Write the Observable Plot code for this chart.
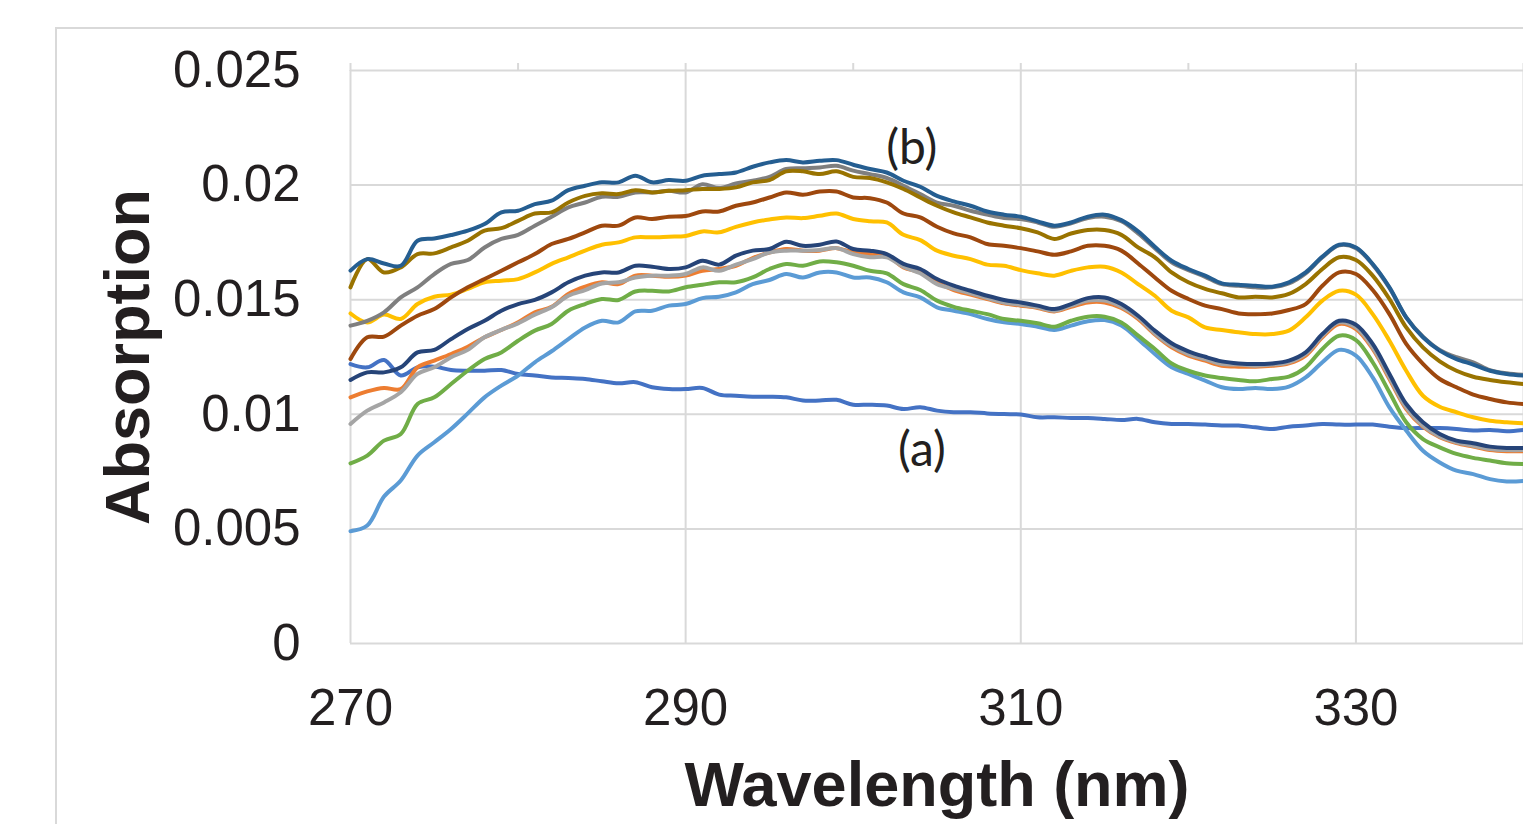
<!DOCTYPE html>
<html>
<head>
<meta charset="utf-8">
<script src="https://cdn.jsdelivr.net/npm/d3@7"></script>
<script src="https://cdn.jsdelivr.net/npm/@observablehq/plot@0.6"></script>
<style>
  html, body { margin: 0; padding: 0; background: #ffffff; overflow: hidden; }
  #chart { position: absolute; left: 0; top: 0; }
  #frame { position: absolute; left: 55px; top: 27px; width: 1700px; height: 1000px;
           border: 2px solid #d9d9d9; box-sizing: border-box; pointer-events: none; }
</style>
</head>
<body>
<div id="chart"></div>
<div id="frame"></div>
<script>
// Wavelength (nm)
const wavelengths = [270,271,272,273,274,275,276,277,278,279,280,281,282,283,284,285,286,287,
  288,289,290,291,292,293,294,295,296,297,298,299,300,301,302,303,304,305,
  306,307,308,309,310,311,312,313,314,315,316,317,318,319,320,321,322,
  323,324,325,326,327,328,329,330,331,332,333,334,335,336,337,338,339,340];

// Absorption series (Excel series order)
const seriesA = [0.01219,0.01205,0.01237,0.01169,0.01205,0.01208,0.01193,0.01190,0.01190,0.01193,0.01176,0.01169,0.01161,0.01158,0.01154,0.01144,0.01135,0.01140,
  0.01118,0.01110,0.01110,0.01115,0.01086,0.01081,0.01077,0.01077,0.01074,0.01060,0.01060,0.01063,0.01042,0.01042,0.01038,0.01023,0.01031,0.01016,
  0.01009,0.01009,0.01004,0.01001,0.00999,0.00987,0.00987,0.00984,0.00984,0.00980,0.00975,0.00980,0.00965,0.00958,0.00958,0.00955,0.00951,
  0.00951,0.00943,0.00936,0.00946,0.00951,0.00958,0.00955,0.00955,0.00955,0.00946,0.00940,0.00940,0.00940,0.00936,0.00929,0.00932,0.00926,0.00932];
const seriesB = [0.01074,0.01100,0.01115,0.01110,0.01205,0.01234,0.01263,0.01295,0.01336,0.01368,0.01401,0.01445,0.01469,0.01525,0.01557,0.01576,0.01568,0.01605,
  0.01605,0.01600,0.01605,0.01626,0.01634,0.01648,0.01682,0.01706,0.01721,0.01714,0.01714,0.01725,0.01706,0.01699,0.01692,0.01641,0.01619,0.01576,
  0.01542,0.01522,0.01503,0.01484,0.01474,0.01464,0.01449,0.01469,0.01488,0.01488,0.01464,0.01416,0.01348,0.01292,0.01256,0.01234,0.01212,
  0.01208,0.01208,0.01212,0.01222,0.01256,0.01336,0.01394,0.01372,0.01285,0.01154,0.01023,0.00946,0.00900,0.00874,0.00859,0.00844,0.00839,0.00839];
const seriesC = [0.00958,0.01016,0.01052,0.01096,0.01176,0.01205,0.01249,0.01281,0.01336,0.01368,0.01397,0.01435,0.01467,0.01517,0.01542,0.01571,0.01576,0.01597,
  0.01605,0.01605,0.01612,0.01641,0.01626,0.01653,0.01677,0.01706,0.01714,0.01714,0.01717,0.01725,0.01699,0.01685,0.01685,0.01644,0.01615,0.01568,
  0.01547,0.01528,0.01507,0.01488,0.01478,0.01467,0.01452,0.01474,0.01496,0.01496,0.01469,0.01423,0.01353,0.01299,0.01263,0.01241,0.01219,
  0.01217,0.01212,0.01217,0.01227,0.01263,0.01343,0.01401,0.01379,0.01292,0.01161,0.01030,0.00950,0.00903,0.00878,0.00863,0.00849,0.00844,0.00844];
const seriesD = [0.01440,0.01401,0.01435,0.01416,0.01481,0.01513,0.01522,0.01547,0.01576,0.01583,0.01590,0.01619,0.01656,0.01685,0.01714,0.01740,0.01750,0.01772,
  0.01772,0.01775,0.01778,0.01798,0.01794,0.01818,0.01837,0.01850,0.01859,0.01856,0.01866,0.01876,0.01852,0.01842,0.01837,0.01783,0.01760,0.01714,
  0.01692,0.01677,0.01653,0.01648,0.01629,0.01615,0.01605,0.01626,0.01641,0.01644,0.01619,0.01568,0.01517,0.01452,0.01423,0.01379,0.01368,
  0.01358,0.01350,0.01350,0.01365,0.01423,0.01496,0.01539,0.01522,0.01437,0.01321,0.01190,0.01081,0.01033,0.01009,0.00987,0.00972,0.00965,0.00961];
const seriesE = [0.00490,0.00515,0.00641,0.00711,0.00820,0.00878,0.00936,0.01004,0.01074,0.01125,0.01169,0.01227,0.01275,0.01328,0.01379,0.01408,0.01401,0.01449,
  0.01452,0.01474,0.01481,0.01507,0.01513,0.01532,0.01568,0.01586,0.01612,0.01597,0.01619,0.01619,0.01597,0.01597,0.01576,0.01532,0.01510,0.01467,
  0.01452,0.01437,0.01416,0.01401,0.01394,0.01382,0.01368,0.01387,0.01406,0.01411,0.01387,0.01328,0.01263,0.01205,0.01176,0.01147,0.01118,
  0.01110,0.01115,0.01110,0.01121,0.01161,0.01227,0.01281,0.01256,0.01161,0.01030,0.00929,0.00841,0.00790,0.00754,0.00739,0.00717,0.00707,0.00709];
const seriesF = [0.00786,0.00820,0.00885,0.00914,0.01045,0.01074,0.01132,0.01190,0.01241,0.01270,0.01321,0.01365,0.01394,0.01452,0.01481,0.01503,0.01499,0.01536,
  0.01539,0.01536,0.01554,0.01565,0.01576,0.01576,0.01597,0.01634,0.01656,0.01648,0.01667,0.01663,0.01648,0.01626,0.01615,0.01568,0.01542,0.01496,
  0.01469,0.01452,0.01437,0.01416,0.01408,0.01397,0.01382,0.01408,0.01426,0.01426,0.01401,0.01343,0.01285,0.01222,0.01190,0.01169,0.01158,
  0.01150,0.01144,0.01154,0.01164,0.01205,0.01285,0.01343,0.01324,0.01227,0.01096,0.00965,0.00892,0.00856,0.00827,0.00810,0.00798,0.00786,0.00783];
const seriesG = [0.01150,0.01183,0.01183,0.01205,0.01270,0.01281,0.01328,0.01372,0.01408,0.01452,0.01481,0.01499,0.01532,0.01576,0.01605,0.01619,0.01619,0.01648,
  0.01644,0.01634,0.01641,0.01670,0.01653,0.01692,0.01714,0.01721,0.01753,0.01735,0.01740,0.01754,0.01721,0.01714,0.01699,0.01656,0.01634,0.01590,
  0.01561,0.01539,0.01517,0.01499,0.01488,0.01474,0.01459,0.01481,0.01507,0.01510,0.01481,0.01430,0.01365,0.01310,0.01275,0.01251,0.01231,
  0.01222,0.01219,0.01222,0.01234,0.01270,0.01350,0.01408,0.01391,0.01307,0.01176,0.01045,0.00965,0.00914,0.00885,0.00874,0.00859,0.00853,0.00853];
const seriesH = [0.01241,0.01336,0.01339,0.01387,0.01430,0.01459,0.01510,0.01554,0.01590,0.01626,0.01663,0.01699,0.01743,0.01765,0.01794,0.01823,0.01823,0.01859,
  0.01852,0.01862,0.01865,0.01885,0.01885,0.01910,0.01924,0.01946,0.01968,0.01958,0.01972,0.01972,0.01946,0.01943,0.01924,0.01876,0.01859,0.01818,
  0.01789,0.01772,0.01743,0.01735,0.01725,0.01711,0.01696,0.01711,0.01735,0.01735,0.01714,0.01658,0.01597,0.01539,0.01503,0.01474,0.01459,
  0.01440,0.01437,0.01440,0.01455,0.01481,0.01561,0.01619,0.01612,0.01542,0.01437,0.01307,0.01220,0.01154,0.01118,0.01086,0.01067,0.01052,0.01045];
const seriesI = [0.01387,0.01408,0.01445,0.01510,0.01554,0.01612,0.01656,0.01673,0.01728,0.01765,0.01783,0.01823,0.01862,0.01903,0.01924,0.01949,0.01949,0.01968,
  0.01968,0.01975,0.01968,0.02004,0.01987,0.02007,0.02019,0.02036,0.02070,0.02074,0.02077,0.02084,0.02063,0.02048,0.02031,0.01997,0.01961,0.01924,
  0.01910,0.01888,0.01871,0.01856,0.01852,0.01837,0.01818,0.01833,0.01856,0.01862,0.01842,0.01789,0.01725,0.01663,0.01629,0.01600,0.01568,
  0.01561,0.01554,0.01554,0.01571,0.01615,0.01685,0.01737,0.01725,0.01653,0.01551,0.01423,0.01339,0.01281,0.01249,0.01227,0.01193,0.01179,0.01172];
const seriesJ = [0.01554,0.01677,0.01619,0.01641,0.01699,0.01702,0.01728,0.01757,0.01801,0.01812,0.01844,0.01876,0.01881,0.01924,0.01953,0.01964,0.01961,0.01978,
  0.01968,0.01975,0.01978,0.01983,0.01983,0.01990,0.02012,0.02022,0.02060,0.02060,0.02048,0.02060,0.02036,0.02031,0.02012,0.01983,0.01946,0.01910,
  0.01881,0.01859,0.01837,0.01823,0.01812,0.01794,0.01765,0.01789,0.01804,0.01804,0.01783,0.01728,0.01685,0.01619,0.01576,0.01547,0.01528,
  0.01510,0.01513,0.01510,0.01525,0.01568,0.01634,0.01685,0.01673,0.01605,0.01503,0.01379,0.01292,0.01231,0.01190,0.01164,0.01150,0.01140,0.01132];
const seriesK = [0.01627,0.01677,0.01658,0.01648,0.01757,0.01767,0.01782,0.01801,0.01830,0.01881,0.01888,0.01917,0.01932,0.01978,0.01997,0.02012,0.02012,0.02041,
  0.02012,0.02022,0.02019,0.02041,0.02048,0.02055,0.02080,0.02099,0.02109,0.02099,0.02106,0.02109,0.02089,0.02070,0.02055,0.02019,0.01993,0.01953,
  0.01929,0.01910,0.01885,0.01871,0.01862,0.01842,0.01823,0.01837,0.01862,0.01871,0.01847,0.01798,0.01731,0.01670,0.01634,0.01605,0.01571,
  0.01565,0.01561,0.01557,0.01576,0.01619,0.01688,0.01740,0.01728,0.01656,0.01554,0.01423,0.01336,0.01278,0.01241,0.01217,0.01190,0.01176,0.01169];

const seriesValues = [seriesA, seriesB, seriesC, seriesD, seriesE, seriesF, seriesG, seriesH, seriesI, seriesJ, seriesK];
const seriesNames = ["A","B","C","D","E","F","G","H","I","J","K"];
const seriesColors = ["#4472C4","#ED7D31","#A5A5A5","#FFC000","#5B9BD5","#70AD47","#264478","#9E480E","#7f7f7f","#997300","#255E91"];

// Axes
const xTicks = [270, 290, 310, 330];
const xTickLabels = ["270", "290", "310", "330"];
const xGrid = [290, 310, 330, 340];
const xTopTicks = [270, 280, 290, 300, 310, 320, 330, 340];
const yTicks = [0, 0.005, 0.01, 0.015, 0.02, 0.025];
const yTickLabels = ["0", "0.005", "0.01", "0.015", "0.02", "0.025"];
const yGrid = [0.005, 0.01, 0.015, 0.02, 0.025];
const xTitle = "Wavelength (nm)";
const yTitle = "Absorption";

// Annotations
const labelText = ["(b)", "(a)"];
const labelX = [303.5, 304.1];
const labelY = [0.0216, 0.00842];

const tables = seriesValues.map((vals, s) =>
  wavelengths.map((w, i) => ({wavelength: w, value: vals[i], series: seriesNames[s]})));
const labels = labelText.map((t, i) => ({text: t, x: labelX[i], y: labelY[i]}));

const gridColor = "#d9d9d9";
const textColor = "#231f20";

const chart = Plot.plot({
  width: 1523,
  height: 824,
  marginLeft: 350,
  marginRight: 0,
  marginTop: 70,
  marginBottom: 181,
  style: {background: "transparent", fontFamily: "'Liberation Sans', Arial, sans-serif", color: textColor},
  x: {domain: [270, 340]},
  y: {domain: [0, 0.025]},
  marks: [
    Plot.ruleY(yGrid, {y: d => d, stroke: gridColor, strokeWidth: 2}),
    Plot.ruleX(xGrid, {x: d => d, stroke: gridColor, strokeWidth: 2}),
    Plot.ruleX([270], {x: d => d, stroke: gridColor, strokeWidth: 2}),
    Plot.ruleY([0], {y: d => d, stroke: gridColor, strokeWidth: 2}),
    Plot.axisX({anchor: "top", ticks: xTopTicks, tickSize: 8, tickFormat: () => "", label: null,
                stroke: gridColor, strokeWidth: 2}),
    Plot.axisX({anchor: "bottom", ticks: xTicks, tickSize: 0, tickPadding: 45, label: null,
                tickFormat: d => xTickLabels[xTicks.indexOf(d)], fontSize: 51, fill: textColor}),
    Plot.axisY({anchor: "left", ticks: yTicks, tickSize: 0, tickPadding: 50, label: null,
                tickFormat: d => yTickLabels[yTicks.indexOf(d)], fontSize: 51, fill: textColor}),
    ...tables.map((t, s) => Plot.line(t, {
      x: "wavelength", y: "value", stroke: seriesColors[s], strokeWidth: 4,
      curve: "catmull-rom", strokeLinejoin: "round", strokeLinecap: "round"
    })),
    Plot.text(labels, {x: "x", y: "y", text: "text", fontSize: 48, fill: textColor,
      fontFamily: "Lato, 'Open Sans', sans-serif"}),
    Plot.text([xTitle], {text: d => d, frameAnchor: "bottom", lineAnchor: "middle", dy: 142, fontSize: 63,
      fontWeight: "bold", fill: textColor}),
    Plot.text([yTitle], {text: d => d, frameAnchor: "left", textAnchor: "middle", lineAnchor: "middle",
      dx: -222, rotate: -90, fontSize: 63, fontWeight: "bold", fill: textColor})
  ]
});
document.getElementById("chart").appendChild(chart);
</script>
</body>
</html>
